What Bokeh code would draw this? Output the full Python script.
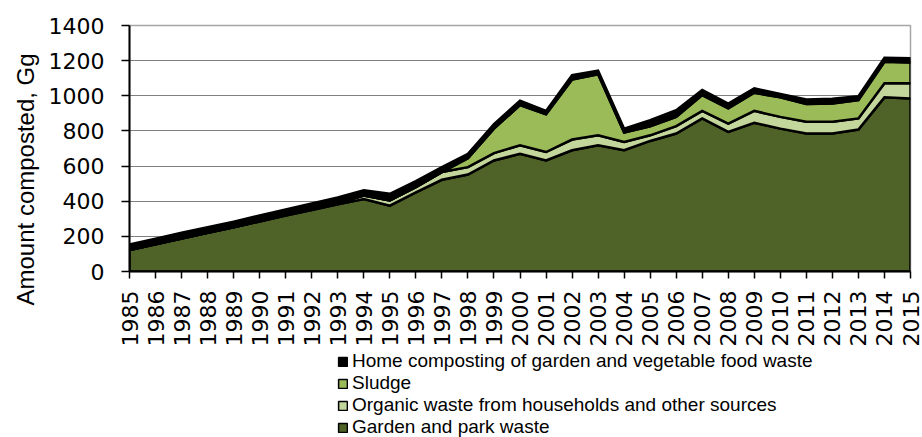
import numpy as np
from bokeh.plotting import figure
from bokeh.layouts import column
from bokeh.models import (Legend, LegendItem, SingleIntervalTicker, FixedTicker,
                          Range1d, Title)
from bokeh.embed import file_html
from bokeh.resources import INLINE

years = list(range(1985, 2016))
garden = [122, 155, 188, 220, 252, 285, 318, 350, 382, 413, 375, 450, 522, 552, 632,
          670, 632, 690, 718, 690, 743, 785, 871, 794, 846, 813, 785, 785, 808, 991, 985]
organic = [0, 0, 0, 0, 0, 2, 3, 5, 8, 19, 29, 30, 44, 42, 42,
           48, 48, 61, 57, 47, 32, 42, 43, 48, 68, 67, 67, 67, 63, 80, 86]
sludge = [0, 0, 0, 0, 0, 0, 0, 0, 0, 0, 0, 0, 0, 50, 139,
          229, 215, 342, 347, 54, 52, 53, 90, 86, 103, 111, 101, 104, 104, 123, 118]
home = [32, 32, 32, 32, 32, 32, 32, 32, 32, 30, 38, 34, 28, 25, 25,
        25, 19, 25, 21, 22, 34, 38, 29, 28, 25, 19, 26, 27, 23, 23, 24]

series_names = ["Garden and park waste",
                "Organic waste from households and other sources",
                "Sludge",
                "Home composting of garden and vegetable food waste"]
series_values = [garden, organic, sludge, home]
series_colors = ["#4F6228", "#C3D69B", "#9BBB59", "#000000"]

p = figure(width=922, height=350, output_backend="svg", toolbar_location=None,
           x_range=Range1d(1985, 2015), y_range=Range1d(0, 1400),
           min_border_left=129, min_border_top=25, min_border_right=12,
           min_border_bottom=79)
p.background_fill_color = "white"
p.border_fill_color = "white"
p.outline_line_color = "#a6a6a6"
p.outline_line_width = 1.5

polys = []
bottom = np.zeros(len(years))
for name, vals, col in zip(series_names, series_values, series_colors):
    top = bottom + np.array(vals, dtype=float)
    xs = years + years[::-1]
    ys = list(top) + list(bottom[::-1])
    polys.append((xs, ys))
    p.patch(xs, ys, fill_color=col, line_color="black", line_width=2.5,
            line_join="miter")
    bottom = top

# axes
p.yaxis.ticker = SingleIntervalTicker(interval=200)
p.xaxis.ticker = FixedTicker(ticks=years)
for axl in (p.xaxis, p.yaxis):
    axl.axis_line_color = "black"
    axl.axis_line_width = 2
    axl.major_tick_line_color = "black"
    axl.major_tick_line_width = 1.5
    axl.major_tick_in = 0
    axl.minor_tick_line_color = None
    axl.major_label_text_font = "DejaVu Sans"
    axl.major_label_text_color = "black"
p.yaxis.major_label_text_font_size = "22px"
p.xaxis.major_label_text_font_size = "22px"
p.yaxis.major_tick_out = 8
p.yaxis.major_label_standoff = 17
p.xaxis.major_tick_out = 7
p.xaxis.major_label_standoff = 12
p.xaxis.major_label_orientation = np.pi / 2

p.xgrid.grid_line_color = None
p.ygrid.grid_line_color = "#808080"
p.ygrid.grid_line_width = 1.2

t = Title(text="Amount composted, Gg", align="left", offset=-34,
          vertical_align="top", text_font="Liberation Sans",
          text_font_size="24px", text_font_style="normal", text_color="black",
          standoff=10)
p.add_layout(t, "left")

# legend strip below the chart (its frame is aligned with the chart frame)
pl = figure(width=922, height=87, output_backend="svg", toolbar_location=None,
            x_range=Range1d(0, 1), y_range=Range1d(0, 1),
            x_axis_type=None, y_axis_type=None, min_border=0)
pl.outline_line_color = None
pl.xgrid.grid_line_color = None
pl.ygrid.grid_line_color = None
legend_renderers = []
for name, col, (xs, ys) in zip(series_names, series_colors, polys):
    r = pl.patch(xs, ys, fill_color=col, line_color="black", line_width=1.5)
    legend_renderers.append((name, r))

items = [LegendItem(label=n, renderers=[r]) for n, r in reversed(legend_renderers)]
legend = Legend(items=items, location=(208, -1), orientation="vertical")
legend.margin = 0
legend.padding = 0
legend.spacing = 0
legend.label_height = 21
legend.glyph_height = 11
legend.glyph_width = 11
legend.label_standoff = 4
legend.label_text_font = "Liberation Sans"
legend.label_text_font_size = "19px"
legend.label_text_line_height = 1.05
legend.label_text_color = "black"
legend.border_line_color = None
legend.background_fill_alpha = 0
pl.add_layout(legend, "center")

layout = column(p, pl, spacing=0)
open("out.html", "w").write(file_html(layout, INLINE))
